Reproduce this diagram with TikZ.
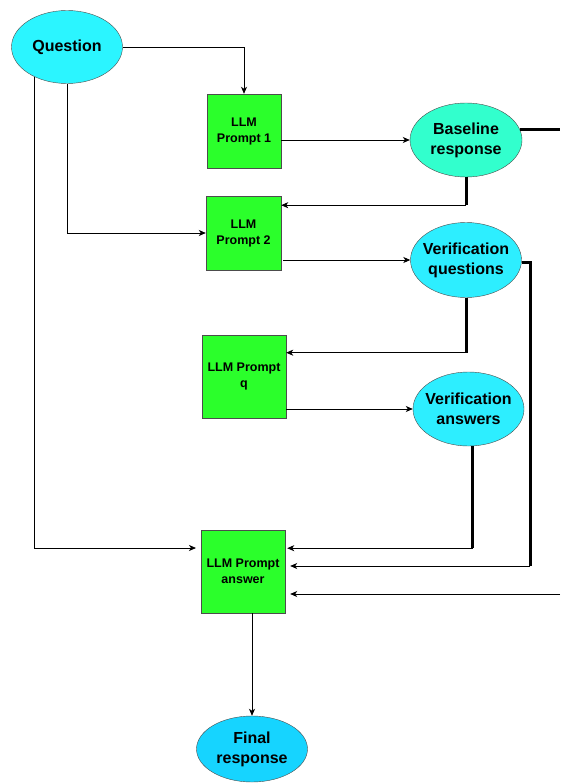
\documentclass[tikz,border=0pt]{standalone}
\usepackage{fontspec}
\setmainfont{Liberation Sans}
\usetikzlibrary{shapes, arrows.meta, calc}
\definecolor{qcyan}{RGB}{43,245,255}
\definecolor{vcyan}{RGB}{45,238,255}
\definecolor{bteal}{RGB}{50,255,205}
\definecolor{fblue}{RGB}{22,212,255}
\definecolor{pgreen}{RGB}{43,255,43}
\begin{document}
\begin{tikzpicture}[x=1pt, y=-1pt,
  oval/.style = {draw=black!70, ellipse, inner xsep=-12pt, inner ysep=-8pt, align=center, font=\fontsize{16}{20}\selectfont\bfseries},
  llm/.style = {draw=black!70, fill=pgreen, inner sep=0pt, align=center, font=\fontsize{12.5}{16}\selectfont\bfseries},
  fat/.style = {line width=3pt},
  wire/.style = {line width=0.8pt},
  >={Stealth[length=7pt, width=6pt, inset=2pt]}]
\useasboundingbox (0,0) rectangle (560,783);
\node[oval, fill=qcyan, minimum width=111pt, minimum height=73pt] (question) at (67,47) {Question};
\node[llm, minimum width=74pt, minimum height=74pt] (p1) at (244,131) {LLM\\Prompt 1};
\node[oval, fill=bteal, minimum width=112pt, minimum height=74pt] (base) at (466,140) {Baseline\\response};
\node[llm, minimum width=75pt, minimum height=74pt] (p2) at (243.5,233) {LLM\\Prompt 2};
\node[oval, fill=vcyan, minimum width=111pt, minimum height=75pt] (vq) at (466,260) {Verification\\questions};
\node[llm, minimum width=84pt, minimum height=83pt] (pq) at (244,376.5) {LLM Prompt\\q};
\node[oval, fill=vcyan, minimum width=111pt, minimum height=74pt] (va) at (468.5,409) {Verification\\answers};
\node[llm, minimum width=84pt, minimum height=83pt] (pa) at (243,571.5) {LLM Prompt\\answer};
\node[oval, fill=fblue, minimum width=111pt, minimum height=66pt] (final) at (252,749) {Final\\response};

\coordinate (baseout) at (560,130);
\coordinate (qa) at (196,548);
\coordinate (v2) at (530,566);
\coordinate (ext) at (560,594);

\draw[wire, ->] (question.east) -| (p1.north);
\draw[wire, ->] (p1.east |- base.west) -- (base.west);
\draw[fat] ([xshift=-2pt]base.east |- baseout) -- (baseout);
\draw[fat] (base.south) -- ++(0,28) coordinate (b1);
\draw[wire, ->] (b1) -- (b1 -| p2.east);
\draw[wire, ->] (question.south) |- (p2.west);
\draw[wire, ->] (question.222) |- (qa);
\draw[wire, ->] ([xshift=2pt]p2.east |- vq.west) -- (vq.west);
\draw[fat] (vq.south) -- ++(0,55) coordinate (v1);
\draw[wire, ->] (v1) -- (v1 -| pq.east);
\draw[fat] ([yshift=-3pt]vq.east) -| (v2);
\draw[wire, ->] (v2) -- ([xshift=5pt]v2 -| pa.east);
\draw[wire, ->] (pq.east |- va.west) -- (va.west);
\draw[fat] ([xshift=4pt]va.south) -- ++(0,102) coordinate (a1);
\draw[wire, ->] (a1) -- ([xshift=2pt]a1 -| pa.east);
\draw[wire, ->] (ext) -- ([xshift=5pt]ext -| pa.east);
\draw[wire, ->] (final.north |- pa.south) -- (final.north);
\end{tikzpicture}
\end{document}
